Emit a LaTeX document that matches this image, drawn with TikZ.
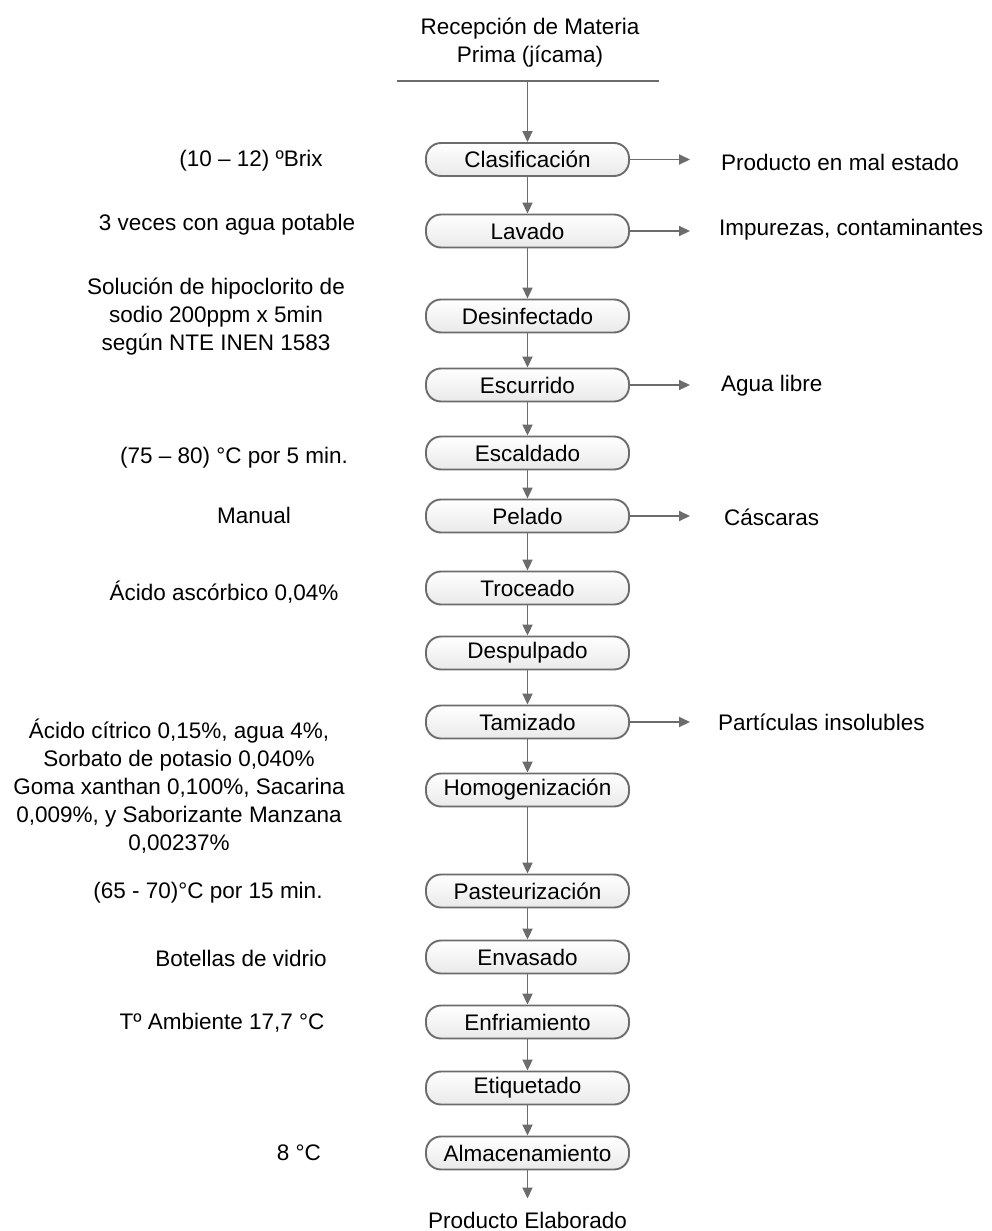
\documentclass[tikz,border=0pt]{standalone}
\usepackage{fontspec}
\setmainfont{Liberation Sans}
\usetikzlibrary{arrows.meta}
\definecolor{gris}{HTML}{6C6C6C}

\begin{document}
\begin{tikzpicture}[x=1pt, y=-1pt, >={Triangle[length=11pt,width=10pt]}, line join=round,
	font=\fontsize{22.5}{28}\selectfont,
	paso/.style={draw=gris, line width=1.9pt, rounded corners=15pt, top color=white, bottom color=gray!17,
		minimum width=203pt, minimum height=33pt, inner sep=0pt},
	flecha/.style={->, draw=gris, line width=1.9pt},
	nota/.style={align=center, inner sep=0pt},
	salida/.style={anchor=west, inner sep=0pt}]
	\useasboundingbox (0,0) rectangle (991,1231);
	\def\xc{527.5} % eje de la columna
	% Materia prima
	\node[nota] (rec) at (530,43) {Recepción de Materia\\Prima (jícama)};
	\coordinate (l1) at (397,81);
	\coordinate (l2) at (659,81);
	\coordinate (ent) at (\xc,81);
	\draw[gris, line width=1.9pt] (l1) -- (l2);
	% Etapas del proceso
	\foreach \n/\y/\t in {clas/159.5/Clasificación, lav/231/Lavado, des/316/Desinfectado, esc/385/Escurrido,
		escal/453/Escaldado, pel/516/Pelado, tro/588/Troceado, desp/653/Despulpado, tam/722/Tamizado,
		hom/790/Homogenización, pas/891/Pasteurización, env/957/Envasado, enf/1022/Enfriamiento,
		eti/1088/Etiquetado, alm/1153/Almacenamiento}
		\node[paso] (\n) at (\xc,\y) {\t};
	\node[inner sep=0pt, anchor=base] (prod) at (\xc,1228) {Producto Elaborado};
	\draw[flecha] (ent) -- (clas);
	\foreach \a/\b in {clas/lav, lav/des, des/esc, esc/escal, escal/pel, pel/tro, tro/desp, desp/tam,
		tam/hom, hom/pas, pas/env, env/enf, enf/eti, eti/alm}
		\draw[flecha] (\a) -- (\b);
	\draw[flecha, shorten >=13pt] (alm) -- (prod);
	% Condiciones de cada etapa
	\node[nota] (n1) at (251,161) {(10 – 12) ºBrix};
	\node[nota] (n2) at (227,225) {3 veces con agua potable};
	\node[nota] (n3) at (216,317) {Solución de hipoclorito de\\sodio 200ppm x 5min\\según NTE INEN 1583};
	\node[nota] (n4) at (234,458) {(75 – 80) °C por 5 min.};
	\node[nota] (n5) at (254,515) {Manual};
	\node[nota] (n6) at (224,592) {Ácido ascórbico 0,04\%};
	\node[nota] (n7) at (179,786) {Ácido cítrico 0,15\%, agua 4\%,\\Sorbato de potasio 0,040\%\\Goma xanthan 0,100\%, Sacarina\\0,009\%, y Saborizante Manzana\\0,00237\%};
	\node[nota] (n8) at (208,893) {(65 - 70)°C por 15 min.};
	\node[nota] (n9) at (241,958) {Botellas de vidrio};
	\node[nota] (n10) at (222,1023) {Tº Ambiente 17,7 °C};
	\node[nota] (n11) at (299,1153) {8 °C};
	% Residuos
	\node[salida] (s1) at (721,162) {Producto en mal estado};
	\node[salida] (s2) at (719,230) {Impurezas, contaminantes};
	\node[salida] (s3) at (721,386) {Agua libre};
	\node[salida] (s4) at (724,517) {Cáscaras};
	\node[salida] (s5) at (718,722) {Partículas insolubles};
	\foreach \a/\b in {clas/s1, lav/s2, esc/s3, pel/s4, tam/s5}
		\draw[flecha] (\a.east) -- (\a.east -| 690,0);
\end{tikzpicture}
\end{document}
